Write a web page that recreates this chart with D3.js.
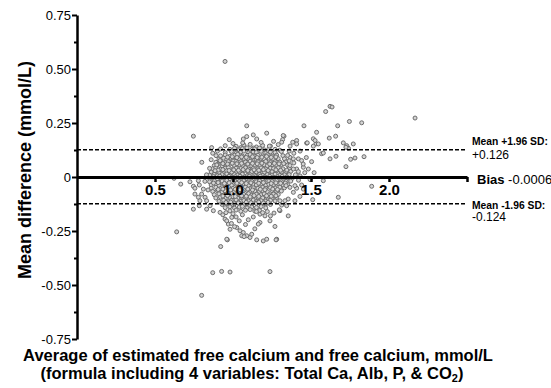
<!DOCTYPE html>
<html lang="en">
<head>
<meta charset="UTF-8">
<title>Bland-Altman: estimated vs measured free calcium</title>
<style>
  body { margin: 0; background: #fff; }
  svg { display: block; font-family: Arial, "Liberation Sans", sans-serif; }
</style>
</head>
<body>
<div id="chart"></div>
<script src="https://d3js.org/d3.v7.min.js"></script>
<script>
// limits of agreement
const bias = -0.0006;
const upperLoA = 0.126;
const lowerLoA = -0.124;

// ticks
const xTicks = [0.5, 1.0, 1.5, 2.0, 2.5];
const yTicks = [-0.75, -0.5, -0.25, 0, 0.25, 0.5, 0.75];
const yMinorTicks = [-0.625, -0.375, -0.125, 0.125, 0.375, 0.625];

// [average, difference]
const clusterPoints = [
  [1.02,.142],[1.07,.148],[1.11,.151],[1.15,.139],[1.19,.146],[1.24,.143],[1.05,.136],[1.13,.134],
  [0.98,.128],[1.01,.133],[1.04,.126],[1.06,.131],[1.09,.135],[1.12,.127],[1.14,.13],[1.17,.134],[1.2,.126],[1.23,.131],[1.27,.128],[1.30,.124],
  [0.95,.113],[0.99,.118],[1.02,.111],[1.05,.116],[1.07,.12],[1.1,.112],[1.13,.117],[1.15,.114],[1.18,.119],[1.21,.111],[1.24,.116],[1.27,.113],[1.31,.118],
  [0.92,.098],[0.95,.102],[0.98,.096],[1.01,.101],[1.03,.105],[1.06,.097],[1.09,.1],[1.11,.104],[1.14,.096],[1.16,.101],[1.19,.098],[1.22,.103],[1.25,.097],[1.28,.101],[1.32,.099],
  [0.91,.083],[0.94,.087],[0.96,.081],[0.99,.086],[1.02,.089],[1.04,.082],[1.07,.086],[1.1,.084],[1.12,.088],[1.15,.081],[1.18,.086],[1.2,.083],[1.23,.087],[1.26,.082],[1.29,.085],[1.33,.084],
  [0.89,.068],[0.92,.072],[0.95,.066],[0.97,.071],[1.0,.074],[1.03,.067],[1.05,.071],[1.08,.069],[1.11,.073],[1.13,.066],[1.16,.07],[1.19,.068],[1.21,.072],[1.24,.067],[1.27,.071],[1.3,.069],[1.34,.07],
  [0.88,.053],[0.9,.057],[0.93,.051],[0.96,.056],[0.98,.059],[1.01,.052],[1.04,.056],[1.06,.054],[1.09,.058],[1.12,.051],[1.14,.055],[1.17,.053],[1.2,.057],[1.22,.052],[1.25,.056],[1.28,.054],[1.31,.058],[1.35,.055],
  [0.87,.038],[0.89,.042],[0.92,.036],[0.95,.041],[0.97,.044],[1.0,.037],[1.02,.041],[1.05,.039],[1.08,.043],[1.1,.036],[1.13,.04],[1.16,.038],[1.18,.042],[1.21,.037],[1.24,.041],[1.26,.039],[1.29,.043],[1.32,.038],[1.36,.04],
  [0.86,.023],[0.89,.027],[0.91,.021],[0.94,.026],[0.96,.029],[0.99,.022],[1.02,.026],[1.04,.024],[1.07,.028],[1.1,.021],[1.12,.025],[1.15,.023],[1.17,.027],[1.2,.022],[1.23,.026],[1.25,.024],[1.28,.028],[1.31,.023],[1.34,.025],[1.37,.026],
  [0.85,.008],[0.88,.012],[0.9,.006],[0.93,.011],[0.96,.014],[0.98,.007],[1.01,.011],[1.03,.009],[1.06,.013],[1.09,.006],[1.11,.01],[1.14,.008],[1.17,.012],[1.19,.007],[1.22,.011],[1.25,.009],[1.27,.013],[1.3,.008],[1.33,.01],[1.36,.011],
  [0.85,-.007],[0.87,-.003],[0.9,-.009],[0.92,-.004],[0.95,-.001],[0.98,-.008],[1.0,-.004],[1.03,-.006],[1.05,-.002],[1.08,-.009],[1.11,-.005],[1.13,-.007],[1.16,-.003],[1.19,-.008],[1.21,-.004],[1.24,-.006],[1.26,-.002],[1.29,-.007],[1.32,-.005],[1.35,-.004],[1.38,-.006],
  [0.85,-.022],[0.88,-.018],[0.91,-.024],[0.93,-.019],[0.96,-.016],[0.99,-.023],[1.01,-.019],[1.04,-.021],[1.07,-.017],[1.09,-.024],[1.12,-.02],[1.15,-.022],[1.17,-.018],[1.2,-.023],[1.23,-.019],[1.25,-.021],[1.28,-.017],[1.31,-.022],[1.34,-.02],[1.37,-.019],
  [0.86,-.037],[0.89,-.033],[0.91,-.039],[0.94,-.034],[0.97,-.031],[0.99,-.038],[1.02,-.034],[1.05,-.036],[1.07,-.032],[1.1,-.039],[1.13,-.035],[1.15,-.037],[1.18,-.033],[1.21,-.038],[1.23,-.034],[1.26,-.036],[1.29,-.032],[1.32,-.037],[1.35,-.035],
  [0.86,-.052],[0.89,-.048],[0.92,-.054],[0.95,-.049],[0.97,-.046],[1.0,-.053],[1.03,-.049],[1.05,-.051],[1.08,-.047],[1.11,-.054],[1.13,-.05],[1.16,-.052],[1.19,-.048],[1.21,-.053],[1.24,-.049],[1.27,-.051],[1.3,-.047],[1.33,-.05],
  [0.87,-.067],[0.9,-.063],[0.93,-.069],[0.95,-.064],[0.98,-.061],[1.01,-.068],[1.03,-.064],[1.06,-.066],[1.09,-.062],[1.11,-.069],[1.14,-.065],[1.17,-.067],[1.19,-.063],[1.22,-.068],[1.25,-.064],[1.28,-.066],[1.31,-.065],
  [0.88,-.082],[0.91,-.078],[0.94,-.084],[0.96,-.079],[0.99,-.076],[1.02,-.083],[1.04,-.079],[1.07,-.081],[1.1,-.077],[1.12,-.084],[1.15,-.08],[1.18,-.082],[1.2,-.078],[1.23,-.083],[1.26,-.079],[1.29,-.081],
  [0.89,-.097],[0.92,-.093],[0.95,-.099],[0.98,-.094],[1.0,-.091],[1.03,-.098],[1.06,-.094],[1.08,-.096],[1.11,-.092],[1.14,-.099],[1.16,-.095],[1.19,-.097],[1.22,-.093],[1.25,-.098],[1.28,-.095],
  [0.91,-.112],[0.94,-.108],[0.97,-.114],[0.99,-.109],[1.02,-.106],[1.05,-.113],[1.07,-.109],[1.1,-.111],[1.13,-.107],[1.15,-.114],[1.18,-.11],[1.21,-.112],[1.24,-.108],[1.27,-.111],
  [0.93,-.127],[0.96,-.123],[0.99,-.129],[1.01,-.124],[1.04,-.121],[1.07,-.128],[1.09,-.124],[1.12,-.126],[1.15,-.122],[1.18,-.129],[1.21,-.125],[1.24,-.127],
  [0.95,-.142],[0.98,-.138],[1.01,-.144],[1.04,-.139],[1.06,-.136],[1.09,-.143],[1.12,-.139],[1.15,-.141],[1.18,-.137],[1.21,-.143],
  [0.98,-.157],[1.02,-.153],[1.05,-.159],[1.08,-.154],[1.11,-.151],[1.14,-.158],[1.17,-.155]
];

// extra points filling the dense core
const corePoints = [
  [0.965,.092],[0.995,.094],[1.025,.09],[1.055,.093],[1.085,.091],[1.125,.094],[1.155,.09],[1.185,.092],[1.215,.095],[1.245,.091],[1.275,.093],
  [0.935,.062],[0.965,.06],[0.995,.064],[1.025,.061],[1.055,.063],[1.095,.06],[1.125,.063],[1.155,.061],[1.185,.064],[1.235,.06],[1.265,.063],[1.295,.061],[1.325,.062],
  [0.905,.032],[0.935,.034],[0.975,.03],[1.005,.033],[1.035,.031],[1.065,.034],[1.095,.03],[1.135,.033],[1.165,.031],[1.195,.034],[1.225,.03],[1.275,.033],[1.305,.031],[1.345,.032],
  [0.875,.002],[0.915,.004],[0.945,.0],[0.975,.003],[1.015,.001],[1.045,.004],[1.075,.0],[1.105,.003],[1.145,.001],[1.175,.004],[1.205,.0],[1.235,.003],[1.285,.001],[1.315,.003],[1.345,.0],
  [0.875,-.028],[0.905,-.026],[0.945,-.03],[0.975,-.027],[1.025,-.029],[1.055,-.026],[1.085,-.03],[1.115,-.027],[1.165,-.029],[1.195,-.026],[1.245,-.03],[1.275,-.027],[1.305,-.029],[1.335,-.028],
  [0.905,-.058],[0.935,-.056],[0.985,-.06],[1.015,-.057],[1.045,-.059],[1.095,-.056],[1.125,-.06],[1.175,-.057],[1.205,-.059],[1.255,-.056],[1.285,-.058],
  [0.935,-.088],[0.965,-.086],[1.015,-.09],[1.055,-.087],[1.085,-.089],[1.135,-.086],[1.165,-.09],[1.215,-.087],[1.245,-.089],[1.275,-.087],
  [0.955,-.118],[0.985,-.116],[1.035,-.12],[1.085,-.117],[1.115,-.119],[1.165,-.116],[1.195,-.12],[1.225,-.117]
];

const upperPoints = [
  [0.949,0.535],[0.746,0.189],[0.863,0.136],[0.976,0.173],[1.088,0.237],[1.216,0.203],[1.13,0.195],[1.327,0.189],
  [1.455,0.237],[1.536,0.207],[1.594,0.303],[1.622,0.327],[1.635,0.324],[1.671,0.237],[1.746,0.257],[1.825,0.251],
  [2.167,0.273],[1.617,0.18],[1.658,0.189],[1.74,0.133],[1.472,0.157],[1.515,0.177],[1.532,0.153],[1.408,0.169],
  [1.383,0.161],[1.707,0.158],[1.729,0.145],[1.771,0.153],[1.724,0.138],[1.322,0.192],[1.318,0.173],[1.312,0.161],
  [1.526,0.169],[1.547,0.153],[1.515,0.143],[1.476,0.158],[1.062,0.158],[1.066,0.176],[1.088,0.187],[1.152,0.176],
  [1.233,0.143],[1.408,0.153],[1.366,0.143],[1.29,0.15],[1.26,0.165],[1.18,0.16],[1.00,0.155],[0.95,0.145]
];

const rightPoints = [
  [1.66,0.096],[1.504,0.071],[1.622,0.084],[1.568,0.108],[1.579,0.111],[1.419,0.084],[1.44,0.076],[1.754,0.082],
  [1.782,0.088],[1.84,0.094],[1.724,0.048],[1.365,0.091],[1.387,0.084],[1.451,0.045],[1.483,0.037],[1.408,0.037],
  [1.365,0.053],[1.387,0.037],[1.419,0.025],[1.494,-0.012],[1.579,-0.017],[1.889,-0.043],[1.675,-0.094],[1.511,-0.105],
  [1.429,-0.090],[1.451,-0.056],[1.408,-0.052],[1.387,-0.071],[1.44,-0.037],[1.397,-0.04],[1.365,-0.048],[1.34,-0.04],
  [1.354,-0.102],[1.333,-0.110],[1.301,-0.110],[1.40,0.01],[1.42,-0.015],[1.45,0.06],[1.39,0.11],[1.43,0.12],
  [1.36,0.12],[1.35,0.10],[1.36,0.075],[1.39,0.065],[1.47,0.09],[1.52,0.02],[1.46,0.02],[1.43,0.005]
];

const leftPoints = [
  [0.80,0.068],[0.891,0.099],[0.917,0.076],[0.896,0.056],[0.885,0.029],[0.665,-0.033],[0.622,-0.006],[0.724,-0.022],
  [0.746,-0.043],[0.756,-0.052],[0.778,-0.017],[0.784,-0.037],[0.81,-0.056],[0.799,-0.079],[0.756,-0.079],[0.778,-0.094],
  [0.821,-0.094],[0.831,-0.11],[0.788,-0.11],[0.82,-0.02],[0.83,0.01],[0.84,-0.06],[0.85,0.04],[0.86,0.08],
  [0.87,0.11],[0.90,0.12],[0.92,0.13]
];

const lowerPoints = [
  [0.746,-0.149],[0.784,-0.133],[0.831,-0.149],[0.853,-0.133],[0.874,-0.156],[0.639,-0.254],[0.921,-0.322],[0.964,-0.291],
  [0.87,-0.443],[0.927,-0.437],[0.981,-0.44],[1.237,-0.438],[0.799,-0.548],[0.917,-0.164],[0.949,-0.195],[0.97,-0.218],
  [0.981,-0.242],[1.024,-0.234],[1.045,-0.249],[1.066,-0.257],[1.088,-0.272],[1.109,-0.28],[1.152,-0.291],[1.194,-0.296],
  [1.216,-0.288],[1.28,-0.288],[0.96,-0.288],[1.269,-0.229],[1.237,-0.203],[1.173,-0.211],[1.04,-0.203],[1.098,-0.198],
  [0.96,-0.203],[0.992,-0.187],[1.173,-0.172],[1.205,-0.18],[1.162,-0.218],[1.24,-0.18],[1.301,-0.156],[1.344,-0.133],
  [1.397,-0.11],[1.354,-0.18],[1.312,-0.130],[1.297,-0.152],[1.263,-0.167],[1.276,-0.291],[1.12,-0.265],[1.056,-0.272],
  [1.071,-0.276],[0.935,-0.175],[0.955,-0.165],[1.0,-0.17],[1.02,-0.185],[1.06,-0.175],[1.13,-0.185],[1.19,-0.165],
  [1.22,-0.16],[1.15,-0.16],[0.99,-0.215],[1.01,-0.23],[1.08,-0.22],[1.14,-0.24]
];

const allPoints = [].concat(clusterPoints, corePoints, upperPoints, rightPoints, leftPoints, lowerPoints);

const width = 551;
const height = 388;

const svg = d3.select('#chart')
  .append('svg')
  .attr('width', width)
  .attr('height', height);

const x = d3.scaleLinear().domain([0, 2.5]).range([77, 467]);
const y = d3.scaleLinear().domain([-0.75, 0.75]).range([339, 15]);

// points first so axes and lines sit on top
svg.append('g')
  .selectAll('circle')
  .data(allPoints)
  .join('circle')
  .attr('cx', d => x(d[0]))
  .attr('cy', d => y(d[1]))
  .attr('r', 2)
  .attr('fill', '#d4d4d4')
  .attr('stroke', '#6c6c6c')
  .attr('stroke-width', 1);

// limits of agreement (dashed)
[upperLoA, lowerLoA].forEach(v => {
  svg.append('line')
    .attr('x1', x(0)).attr('x2', x(2.5))
    .attr('y1', y(v)).attr('y2', y(v))
    .attr('stroke', '#000')
    .attr('stroke-width', 1.5)
    .attr('stroke-dasharray', '4,2');
});

// y axis
const yAxis = svg.append('g')
  .attr('transform', `translate(${x(0)},0)`)
  .call(d3.axisLeft(y)
    .tickValues(yTicks)
    .tickSize(5)
    .tickSizeOuter(0)
    .tickPadding(1)
    .tickFormat(d => d === 0 ? '0' : d.toFixed(2)));
yAxis.select('.domain').attr('stroke-width', 2.5);
yAxis.selectAll('.tick line').attr('stroke-width', 2);
yAxis.selectAll('.tick text').attr('font-size', 13).attr('fill', '#000');

const yMinor = svg.append('g')
  .attr('transform', `translate(${x(0)},0)`)
  .call(d3.axisLeft(y).tickValues(yMinorTicks).tickSize(3).tickFormat(''));
yMinor.select('.domain').remove();
yMinor.selectAll('.tick line').attr('stroke-width', 2);

// x axis at zero difference
const xAxis = svg.append('g')
  .attr('transform', `translate(0,${y(0)})`)
  .call(d3.axisBottom(x)
    .tickValues(xTicks)
    .tickSize(5)
    .tickSizeOuter(0)
    .tickPadding(2)
    .tickFormat(d => d === 2.5 ? '' : d.toFixed(1)));
xAxis.select('.domain').attr('stroke-width', 3);
xAxis.selectAll('.tick line').attr('stroke-width', 2.5);
xAxis.selectAll('.tick text')
  .attr('font-size', 15)
  .attr('font-weight', 'bold')
  .attr('fill', '#000');

// labels for the lines
const lab = svg.append('g').attr('fill', '#000');
lab.append('text').attr('x', 472).attr('y', y(upperLoA) - 5)
  .attr('font-size', 10.3).attr('font-weight', 'bold').text('Mean +1.96 SD:');
lab.append('text').attr('x', 472).attr('y', y(upperLoA) + 9)
  .attr('font-size', 12).text('+' + upperLoA.toFixed(3));

const biasText = lab.append('text').attr('x', 477).attr('y', y(bias) + 7).attr('font-size', 13);
biasText.append('tspan').attr('font-weight', 'bold').text('Bias ');
biasText.append('tspan').text(bias.toFixed(4));

lab.append('text').attr('x', 472).attr('y', y(lowerLoA) + 5)
  .attr('font-size', 10.3).attr('font-weight', 'bold').text('Mean -1.96 SD:');
lab.append('text').attr('x', 472).attr('y', y(lowerLoA) + 17)
  .attr('font-size', 12).text(lowerLoA.toFixed(3));

// axis titles
svg.append('text')
  .attr('transform', 'translate(31,170) rotate(-90)')
  .attr('text-anchor', 'middle')
  .attr('font-size', 18)
  .attr('font-weight', 'bold')
  .text('Mean difference (mmol/L)');

svg.append('text')
  .attr('x', 258).attr('y', 361)
  .attr('text-anchor', 'middle')
  .attr('font-size', 16.5)
  .attr('font-weight', 'bold')
  .text('Average of estimated free calcium and free calcium, mmol/L');

const t2 = svg.append('text')
  .attr('x', 252).attr('y', 379)
  .attr('text-anchor', 'middle')
  .attr('font-size', 16.5)
  .attr('font-weight', 'bold');
t2.append('tspan').text('(formula including 4 variables: Total Ca, Alb, P, & CO');
t2.append('tspan').attr('font-size', 11).attr('dy', 3).text('2');
t2.append('tspan').attr('dy', -3).text(')');
</script>
</body>
</html>
